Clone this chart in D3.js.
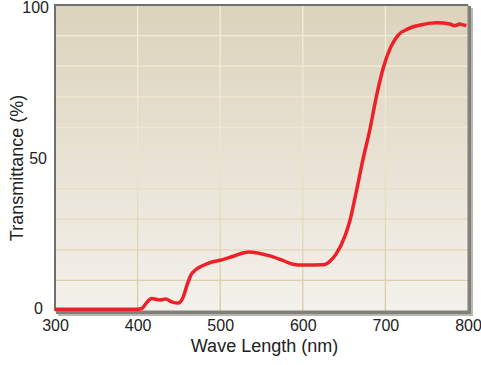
<!DOCTYPE html>
<html>
<head>
<meta charset="utf-8">
<script src="https://cdn.jsdelivr.net/npm/d3@7"></script>
<style>
  body { margin: 0; background: #fff; }
  svg text { font-family: "Liberation Sans", Arial, sans-serif; fill: #222; }
</style>
</head>
<body>
<svg id="chart" width="481" height="365"></svg>
<script>
// wavelength (nm) and transmittance (%)
var waveLength = [300, 350, 400, 405, 410, 417, 427, 434, 442, 449, 455, 460, 465, 470, 478, 490, 500, 515, 534, 560, 575, 588, 600, 625, 633, 640, 651, 657, 665, 673, 681, 689, 698, 706, 715, 728, 741, 762, 778, 784, 790, 793, 798];
var transmittance = [0.6, 0.6, 0.6, 0.8, 2.4, 4.1, 3.6, 3.9, 2.9, 2.6, 4.4, 8.6, 12.0, 13.4, 14.7, 16, 16.6, 17.8, 19.3, 18, 16.6, 15.3, 15.0, 15.1, 16.3, 18.5, 24.5, 29.5, 39.3, 49.7, 59, 70, 80, 86, 90, 92.3, 93.4, 94.2, 93.8, 93.2, 93.8, 93.6, 93.3];
var xTicks = [300, 400, 500, 600, 700, 800];
var yTicks = [0, 50, 100];
var xGrid = [400, 500, 600, 700];
var yGrid = [10, 20, 30, 40, 50, 60, 70, 80, 90];

// plot box (window.top is reserved, so prefix these)
var pLeft = 55, pTop = 5, pRight = 468, pBottom = 311;
var svg = d3.select('#chart');

var x = d3.scaleLinear().domain([300, 800]).range([pLeft, pRight]);
var y = d3.scaleLinear().domain([0, 100]).range([pBottom, pTop]);

var defs = svg.append('defs');
var bg = defs.append('linearGradient').attr('id', 'bg')
    .attr('x1', 0).attr('y1', 0).attr('x2', 0).attr('y2', 1);
bg.append('stop').attr('offset', '0%').attr('stop-color', '#dcd3bc');
bg.append('stop').attr('offset', '100%').attr('stop-color', '#f4f1ec');

var gr = defs.append('linearGradient').attr('id', 'grid')
    .attr('gradientUnits', 'userSpaceOnUse')
    .attr('x1', 0).attr('y1', pTop).attr('x2', 0).attr('y2', pBottom);
gr.append('stop').attr('offset', '0%').attr('stop-color', '#f6eed6');
gr.append('stop').attr('offset', '45%').attr('stop-color', '#f0e6cc');
gr.append('stop').attr('offset', '100%').attr('stop-color', '#d8caa6');

// shadow at right / bottom
svg.append('rect')
    .attr('x', pLeft + 3).attr('y', pTop + 3)
    .attr('width', pRight - pLeft + 2).attr('height', pBottom - pTop + 2)
    .attr('fill', '#b8b6ae');
svg.append('rect')
    .attr('x', pLeft + 1).attr('y', pTop + 1)
    .attr('width', pRight - pLeft + 2).attr('height', pBottom - pTop + 2)
    .attr('fill', '#80807a');

svg.append('rect')
    .attr('x', pLeft).attr('y', pTop)
    .attr('width', pRight - pLeft).attr('height', pBottom - pTop)
    .attr('fill', 'url(#bg)');

svg.append('g').selectAll('line')
    .data(xGrid).enter().append('line')
    .attr('x1', function (d) { return x(d); })
    .attr('x2', function (d) { return x(d); })
    .attr('y1', pTop).attr('y2', pBottom)
    .attr('stroke', 'url(#grid)').attr('stroke-width', 1.3);

svg.append('g').selectAll('line')
    .data(yGrid).enter().append('line')
    .attr('y1', function (d) { return y(d); })
    .attr('y2', function (d) { return y(d); })
    .attr('x1', pLeft).attr('x2', pRight)
    .attr('stroke', 'url(#grid)').attr('stroke-width', 1.3);

// dark frame on left and top
svg.append('path')
    .attr('d', 'M' + pLeft + ',' + pBottom + 'V' + pTop + 'H' + pRight)
    .attr('fill', 'none').attr('stroke', '#6f6f6f').attr('stroke-width', 2);
svg.append('path')
    .attr('d', 'M' + pRight + ',' + pTop + 'V' + pBottom + 'H' + pLeft)
    .attr('fill', 'none').attr('stroke', '#808080').attr('stroke-width', 1);

var pts = waveLength.map(function (d, i) { return [d, transmittance[i]]; });
var line = d3.line()
    .x(function (d) { return x(d[0]); })
    .y(function (d) { return y(d[1]); })
    .curve(d3.curveMonotoneX);

svg.append('path')
    .datum(pts)
    .attr('d', line)
    .attr('fill', 'none')
    .attr('stroke', '#ee2128')
    .attr('stroke-width', 3.5)
    .attr('stroke-linejoin', 'round');

// axes, labels only
var xAxis = d3.axisBottom(x).tickValues(xTicks).tickSize(0).tickPadding(0);
svg.append('g')
    .attr('transform', 'translate(0,' + 331 + ')')
    .call(xAxis)
    .call(function (g) { g.select('.domain').remove(); })
    .selectAll('text')
    .attr('dy', 0)
    .attr('font-size', 16);

// end labels are nudged inward like the original
var yAxis = d3.axisLeft(y).tickValues(yTicks).tickSize(0).tickPadding(0);
svg.append('g')
    .attr('transform', 'translate(' + 49 + ',0)')
    .call(yAxis)
    .call(function (g) { g.select('.domain').remove(); })
    .selectAll('text')
    .attr('dy', function (d) { return d === 100 ? 7.5 : (d === 0 ? 2.5 : 5); })
    .attr('dx', function (d) { return d === 0 ? -6 : (d === 50 ? -2 : 0); })
    .attr('font-size', 16);

svg.append('text')
    .attr('x', (pLeft + pRight) / 2 + 3).attr('y', 352)
    .attr('text-anchor', 'middle')
    .attr('font-size', 18)
    .text('Wave Length (nm)');

svg.append('text')
    .attr('transform', 'translate(23,' + 168 + ') rotate(-90)')
    .attr('text-anchor', 'middle')
    .attr('font-size', 18)
    .text('Transmittance (%)');
</script>
</body>
</html>
